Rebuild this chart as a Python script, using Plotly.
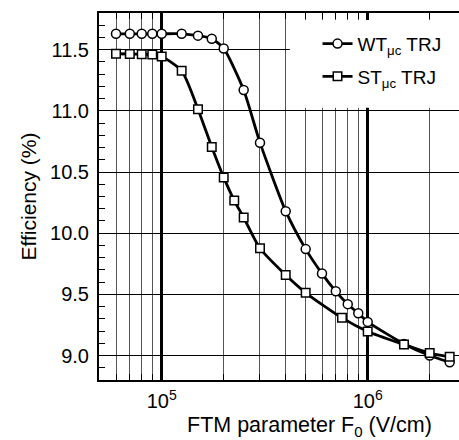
import plotly.graph_objects as go

# Data
wt_x = [6e4, 7e4, 8e4, 9e4, 1e5, 1.25e5, 1.5e5, 1.75e5, 2e5, 2.5e5, 3e5, 4e5, 5e5,
        6e5, 7e5, 8e5, 9e5, 1e6, 1.5e6, 2e6, 2.5e6]
wt_y = [11.63, 11.63, 11.63, 11.63, 11.63, 11.63, 11.615, 11.59, 11.51, 11.17, 10.74,
        10.18, 9.87, 9.67, 9.525, 9.42, 9.345, 9.275, 9.095, 9.0, 8.945]

st_x = [6e4, 7e4, 8e4, 9e4, 1e5, 1.25e5, 1.5e5, 1.75e5, 2e5, 2.25e5, 2.5e5, 3e5, 4e5,
        5e5, 7.5e5, 1e6, 1.5e6, 2e6, 2.5e6]
st_y = [11.467, 11.465, 11.463, 11.46, 11.445, 11.328, 11.014, 10.705, 10.456, 10.267,
        10.128, 9.877, 9.658, 9.513, 9.308, 9.197, 9.09, 9.02, 8.99]

x_major = [1e5, 1e6]
x_major_text = ["10<sup>5</sup>", "10<sup>6</sup>"]
x_minor = [6e4, 7e4, 8e4, 9e4, 2e5, 3e5, 4e5, 5e5, 6e5, 7e5, 8e5, 9e5, 2e6]
y_major = [9.0, 9.5, 10.0, 10.5, 11.0, 11.5]

x_title = "FTM parameter F<sub>0</sub> (V/cm)"
y_title = "Efficiency (%)"

FONT = "Liberation Sans, Arial, sans-serif"

fig = go.Figure()
fig.add_trace(go.Scatter(
    x=wt_x, y=wt_y, mode="lines+markers", name="WT<sub>μc</sub> TRJ", legendgroup="a",
    line=dict(color="black", width=2.8, shape="spline", smoothing=0.6),
    marker=dict(symbol="circle", size=9, color="white", line=dict(color="black", width=1.5)),
))
fig.add_trace(go.Scatter(
    x=st_x, y=st_y, mode="lines+markers", name="ST<sub>μc</sub> TRJ", legendgroup="b",
    line=dict(color="black", width=2.8, shape="spline", smoothing=0.6),
    marker=dict(symbol="square", size=8.5, color="white", line=dict(color="black", width=1.5)),
))

# white legend backdrop
fig.add_shape(type="rect", xref="paper", yref="paper",
              x0=0.53, x1=1.0, y0=0.742, y1=0.981,
              fillcolor="white", line=dict(width=0), layer="above")

fig.add_annotation(text=x_title, xref="paper", yref="paper", x=0.586, y=-0.126,
                   xanchor="center", yanchor="middle", showarrow=False,
                   font=dict(size=21.5, family=FONT, color="black"))

fig.update_layout(
    width=459, height=440,
    margin=dict(l=99, r=0, t=13, b=60),
    paper_bgcolor="white", plot_bgcolor="white",
    font=dict(family=FONT, size=20, color="black"),
    showlegend=True,
    legend=dict(x=0.607, y=0.968, xanchor="left", yanchor="top",
                bgcolor="rgba(0,0,0,0)", font=dict(size=19, family=FONT),
                tracegroupgap=5, traceorder="grouped", itemwidth=30),
    xaxis=dict(
        type="log", range=[4.6956, 6.4432],
        tickmode="array", tickvals=x_major, ticktext=x_major_text,
        ticks="inside", ticklen=6, tickwidth=2, tickcolor="black",
        showgrid=True, gridcolor="black", gridwidth=3,
        showline=True, linecolor="black", linewidth=2, mirror="allticks",
        ticklabelstandoff=2,
        minor=dict(tickmode="array", tickvals=x_minor, ticks="inside", ticklen=6,
                   tickcolor="black", tickwidth=1,
                   showgrid=True, gridcolor="#555555", gridwidth=1),
        zeroline=False,
    ),
    yaxis=dict(
        range=[8.8, 11.8],
        tickmode="array", tickvals=y_major, ticktext=[f"{v:.1f}" for v in y_major],
        ticks="inside", ticklen=6, tickwidth=1, tickcolor="black",
        showgrid=True, gridcolor="black", gridwidth=1,
        showline=True, linecolor="black", linewidth=2, mirror=False,
        ticklabelstandoff=4,
        minor=dict(dtick=0.1, ticks="inside", ticklen=6, tickcolor="black",
                   tickwidth=1, showgrid=False),
        title=dict(text=y_title, font=dict(size=21), standoff=8),
        zeroline=False,
    ),
)

fig.write_html("out.html")
